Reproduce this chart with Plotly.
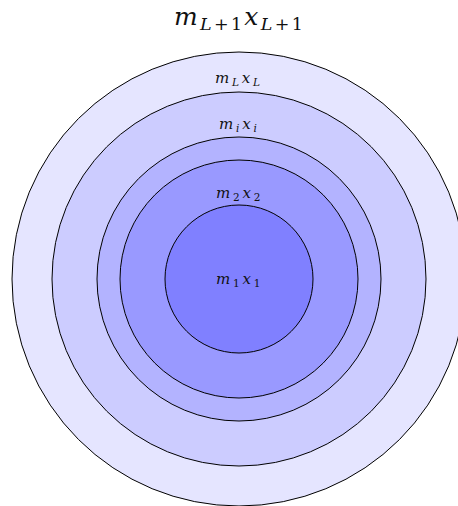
import plotly.graph_objects as go

# Nested circles (outermost first)
radii = [227, 187, 142, 119, 74]
fill_colors = ["#e5e5ff", "#ccccff", "#b3b3ff", "#9999ff", "#8080ff"]

# Labels and their vertical positions (relative to common centre)
labels = [
    "<i>m</i><sub><i>L</i>+1</sub><i>x</i><sub><i>L</i>+1</sub>",
    "<i>m</i><sub><i>L</i></sub><i>x</i><sub><i>L</i></sub>",
    "<i>m</i><sub><i>i</i></sub><i>x</i><sub><i>i</i></sub>",
    "<i>m</i><sub>2</sub><i>x</i><sub>2</sub>",
    "<i>m</i><sub>1</sub><i>x</i><sub>1</sub>",
]
label_y = [261, 201, 155, 86, 0]
label_sizes = [25, 15, 15, 15, 15]
label_spacing = [2.3, 2.8, 2.8, 2.8, 2.8]

fig = go.Figure()

shapes = []
for r, c in zip(radii, fill_colors):
    shapes.append(dict(
        type="circle", xref="x", yref="y",
        x0=-r, x1=r, y0=-r, y1=r,
        fillcolor=c, line=dict(color="black", width=1), layer="below",
    ))

annotations = []
for t, y, s, ls in zip(labels, label_y, label_sizes, label_spacing):
    annotations.append(dict(
        x=0, y=y, xref="x", yref="y",
        text=f'<span style="letter-spacing:{ls}px">{t}</span>',
        showarrow=False,
        font=dict(family="DejaVu Serif, serif", size=s, color="#111111"),
        xanchor="center", yanchor="middle",
    ))

# invisible trace to set up axes
fig.add_trace(go.Scatter(x=[0], y=[0], mode="markers", marker=dict(opacity=0),
                         hoverinfo="skip", showlegend=False))

fig.update_layout(
    width=458, height=506,
    margin=dict(l=0, r=0, t=0, b=0),
    paper_bgcolor="white", plot_bgcolor="white",
    shapes=shapes, annotations=annotations,
    xaxis=dict(range=[-239, 219], visible=False, fixedrange=True),
    yaxis=dict(range=[-227, 279], visible=False, fixedrange=True),
    showlegend=False,
)

fig.write_html("out.html", config={"displayModeBar": False},
               post_script="document.body.style.margin='0px';")
